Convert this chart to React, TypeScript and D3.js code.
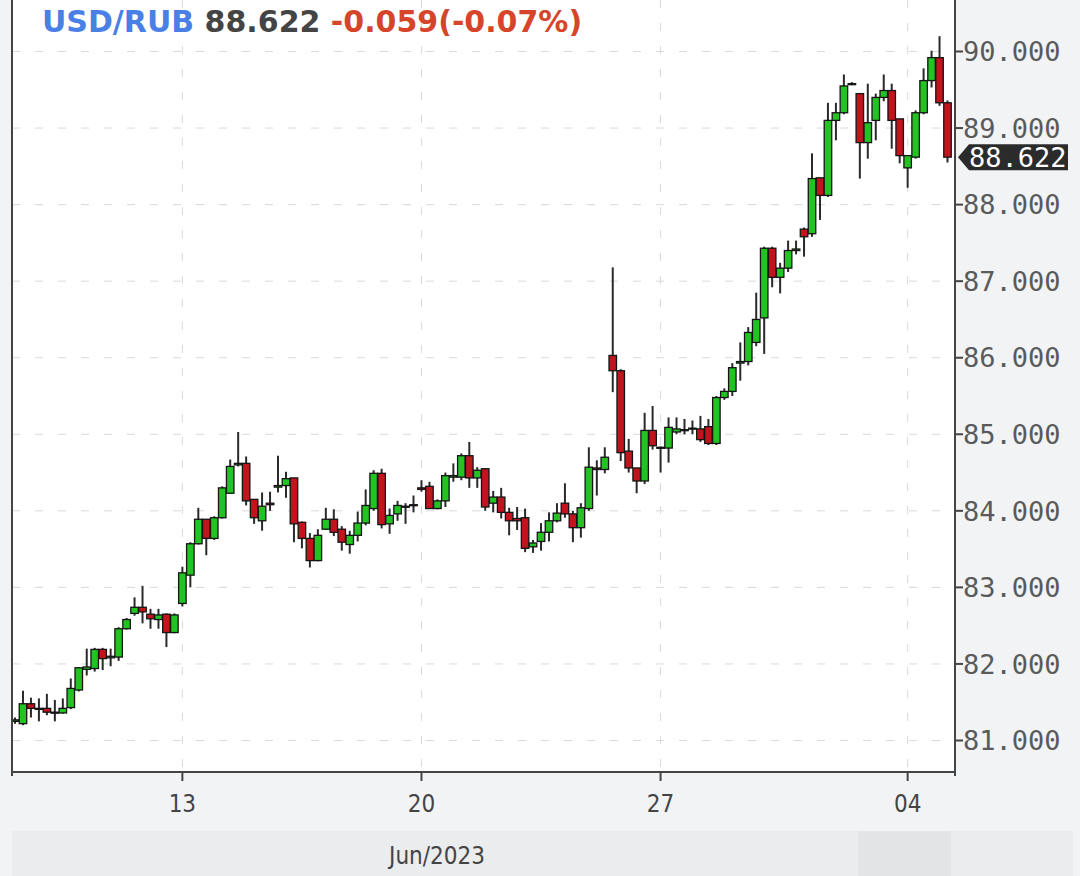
import React from "react";
import * as d3 from "d3";

const symbol = "USD/RUB";
const lastPrice = "88.622";
const change = "-0.059(-0.07%)";
const monthLabel = "Jun/2023";

const opens = [
  81.25, 81.22, 81.48, 81.42, 81.42, 81.37, 81.36, 81.43, 81.66, 81.93,
  81.94, 82.19, 82.08, 82.09, 82.46, 82.66, 82.74, 82.65, 82.58, 82.65,
  82.41, 82.79, 83.16, 83.57, 83.89, 83.64, 83.91, 84.23, 84.60, 84.62,
  84.15, 83.87, 84.10, 84.31, 84.33, 84.43, 83.85, 83.64, 83.35, 83.76,
  83.89, 83.76, 83.56, 83.68, 83.84, 84.03, 84.49, 83.83, 83.96, 84.06,
  84.07, 84.30, 84.32, 84.03, 84.13, 84.44, 84.44, 84.72, 84.43, 84.55,
  84.10, 84.18, 83.98, 83.90, 83.91, 83.53, 83.60, 83.72, 83.87, 84.10,
  83.96, 83.78, 84.03, 84.56, 84.54, 86.03, 85.83, 84.78, 84.56, 84.39,
  85.05, 84.83, 84.82, 85.03, 85.06, 85.08, 85.07, 85.10, 84.88, 85.48,
  85.56, 85.93, 85.95, 86.20, 86.52, 87.43, 87.05, 87.17, 87.40, 87.68,
  87.62, 88.35, 88.12, 89.10, 89.20, 89.58, 89.45, 88.81, 89.10, 89.40,
  89.49, 89.12, 88.48, 88.62, 89.20, 89.62, 89.92, 89.33,
];
const highs = [
  81.30, 81.65, 81.56, 81.55, 81.61, 81.53, 81.55, 81.81, 81.96, 82.20,
  82.21, 82.21, 82.20, 82.48, 82.60, 82.87, 83.02, 82.72, 82.72, 82.66,
  82.66, 83.27, 83.59, 84.04, 83.89, 83.93, 84.32, 84.67, 85.03, 84.71,
  84.15, 84.24, 84.25, 84.72, 84.51, 84.43, 83.86, 83.71, 83.76, 84.04,
  84.02, 83.80, 83.74, 83.99, 84.28, 84.53, 84.55, 84.03, 84.13, 84.10,
  84.20, 84.40, 84.38, 84.15, 84.50, 84.62, 84.75, 84.90, 84.57, 84.55,
  84.26, 84.30, 84.04, 84.05, 84.03, 83.62, 83.84, 83.98, 84.10, 84.36,
  84.00, 84.10, 84.83, 84.66, 84.83, 87.18, 85.85, 84.94, 84.56, 85.28,
  85.37, 84.84, 85.22, 85.22, 85.20, 85.18, 85.24, 85.20, 85.50, 85.60,
  85.93, 86.20, 86.40, 86.85, 87.45, 87.45, 87.24, 87.53, 87.53, 87.70,
  88.67, 88.35, 89.33, 89.33, 89.70, 89.60, 89.45, 89.58, 89.45, 89.70,
  89.58, 89.12, 88.64, 89.23, 89.78, 90.01, 90.20, 89.36,
];
const lows = [
  81.22, 81.20, 81.30, 81.25, 81.33, 81.25, 81.35, 81.41, 81.64, 81.85,
  81.90, 81.92, 81.97, 82.04, 82.45, 82.63, 82.53, 82.46, 82.46, 82.22,
  82.40, 82.75, 83.00, 83.56, 83.42, 83.62, 83.90, 84.22, 84.58, 84.07,
  83.83, 83.74, 84.00, 84.24, 84.17, 83.59, 83.51, 83.26, 83.34, 83.75,
  83.67, 83.48, 83.44, 83.60, 83.81, 84.00, 83.77, 83.70, 83.87, 83.83,
  83.98, 84.25, 84.03, 84.02, 84.05, 84.38, 84.40, 84.30, 84.30, 84.00,
  83.98, 83.90, 83.68, 83.75, 83.46, 83.45, 83.48, 83.60, 83.85, 83.91,
  83.59, 83.65, 84.00, 84.20, 84.49, 85.55, 84.65, 84.50, 84.23, 84.35,
  84.80, 84.50, 84.63, 85.00, 85.00, 85.00, 84.90, 84.86, 84.86, 85.45,
  85.50, 85.70, 85.90, 86.15, 86.05, 86.92, 86.84, 87.12, 87.35, 87.32,
  87.58, 87.80, 88.10, 88.84, 89.18, 89.56, 88.34, 88.60, 88.84, 89.35,
  88.73, 88.54, 88.22, 88.60, 89.18, 89.53, 89.29, 88.55,
];
const closes = [
  81.27, 81.48, 81.42, 81.41, 81.37, 81.36, 81.42, 81.68, 81.95, 81.96,
  82.19, 82.07, 82.10, 82.46, 82.58, 82.74, 82.68, 82.59, 82.64, 82.41,
  82.64, 83.19, 83.57, 83.89, 83.64, 83.91, 84.30, 84.58, 84.62, 84.13,
  83.91, 84.06, 84.08, 84.33, 84.42, 83.83, 83.64, 83.35, 83.68, 83.89,
  83.72, 83.59, 83.68, 83.84, 84.07, 84.49, 83.82, 83.94, 84.07, 84.05,
  84.08, 84.28, 84.03, 84.13, 84.46, 84.46, 84.72, 84.43, 84.53, 84.05,
  84.18, 83.98, 83.87, 83.87, 83.51, 83.58, 83.72, 83.87, 83.97, 83.96,
  83.78, 84.04, 84.57, 84.54, 84.70, 85.83, 84.76, 84.56, 84.39, 85.05,
  84.85, 84.82, 85.09, 85.07, 85.05, 85.08, 84.93, 84.88, 85.48, 85.56,
  85.87, 85.95, 86.33, 86.50, 87.43, 87.05, 87.17, 87.40, 87.42, 87.58,
  88.34, 88.12, 89.10, 89.20, 89.55, 89.58, 88.81, 89.07, 89.40, 89.49,
  89.10, 88.64, 88.64, 89.20, 89.62, 89.92, 89.33, 88.62,
];

const yTicks = [81, 82, 83, 84, 85, 86, 87, 88, 89, 90];
const xTickIndex = [21, 51, 81, 112];
const xTickLabels = ["13", "20", "27", "04"];

const W = 1080;
const H = 876;
const plotL = 12;
const plotR = 955;
const plotT = 0;
const plotB = 772;

export default function App() {
  const n = closes.length;
  const x = d3.scaleLinear().domain([0, n - 1]).range([15, 947.5]);
  const y = d3.scaleLinear().domain([81, 90]).range([740.5, 51.5]);
  const bw = 7.5;
  const fmt = d3.format(".3f");
  const lastY = y(closes[n - 1]);
  const gridColor = "#d9d9d9";

  const candles = d3.range(n).map((i) => {
    const o = opens[i];
    const c = closes[i];
    const up = c >= o;
    const cx = x(i);
    const top = y(Math.max(o, c));
    const bot = y(Math.min(o, c));
    const h = Math.max(bot - top, 1);
    return (
      <g key={i}>
        <line x1={cx} x2={cx} y1={y(highs[i])} y2={y(lows[i])} stroke="#2a2a2a" strokeWidth={2} />
        <rect
          x={cx - bw / 2}
          y={top}
          width={bw}
          height={h}
          fill={up ? "#22c322" : "#c2141c"}
          stroke="#151515"
          strokeWidth={1.3}
        />
      </g>
    );
  });

  return (
    <div style={{ position: "absolute", left: 0, top: 0 }}>
      <svg width={W} height={H} style={{ display: "block" }}>
        <rect x={0} y={0} width={W} height={H} fill="#f2f3f5" />
        <rect x={plotL} y={plotT} width={plotR - plotL} height={plotB - plotT} fill="#ffffff" />
        <defs>
          <clipPath id="plotclip">
            <rect x={plotL} y={plotT} width={plotR - plotL} height={plotB - plotT} />
          </clipPath>
        </defs>
        {yTicks.map((t) => (
          <line key={"hg" + t} x1={plotL} x2={plotR} y1={y(t)} y2={y(t)} stroke={gridColor} strokeWidth={1} strokeDasharray="8,15" />
        ))}
        {xTickIndex.map((t) => (
          <line key={"vg" + t} x1={x(t)} x2={x(t)} y1={plotT} y2={plotB} stroke={gridColor} strokeWidth={1} strokeDasharray="8,15" />
        ))}
        <g clipPath="url(#plotclip)">{candles}</g>
        {/* axes */}
        <line x1={plotL} x2={plotL} y1={0} y2={plotB} stroke="#444" strokeWidth={2} />
        <line x1={plotL} x2={plotR} y1={plotB} y2={plotB} stroke="#444" strokeWidth={2} />
        <line x1={plotR} x2={plotR} y1={0} y2={plotB + 4} stroke="#444" strokeWidth={2} />
        <line x1={plotL} x2={plotL} y1={plotB} y2={plotB + 4} stroke="#444" strokeWidth={2} />
        {xTickIndex.map((t, k) => (
          <g key={"xt" + t}>
            <line x1={x(t)} x2={x(t)} y1={plotB} y2={plotB + 9} stroke="#444" strokeWidth={2} />
            <text
              x={x(t)}
              y={812}
              textAnchor="middle"
              fontFamily="'DejaVu Sans Condensed', 'DejaVu Sans', sans-serif"
              fontStretch="condensed"
              fontSize={24}
              fill="#444"
            >
              {xTickLabels[k]}
            </text>
          </g>
        ))}
        {yTicks.map((t) => (
          <g key={"yt" + t}>
            <line x1={plotR} x2={plotR + 8} y1={y(t)} y2={y(t)} stroke="#444" strokeWidth={2} />
            <text
              x={963}
              y={y(t)}
              dy="0.36em"
              fontFamily="'DejaVu Sans Mono', monospace"
              fontSize={27}
              fill="#5a5a5a"
            >
              {fmt(t)}
            </text>
          </g>
        ))}
        {/* last price tag */}
        <path
          d={`M${plotR + 3},${lastY} L${plotR + 14},${lastY - 13} L1068,${lastY - 13} L1068,${lastY + 13} L${plotR + 14},${lastY + 13} Z`}
          fill="#2b2b2b"
        />
        <text
          x={969}
          y={lastY}
          dy="0.36em"
          fontFamily="'DejaVu Sans Mono', monospace"
          fontSize={27}
          fill="#ffffff"
        >
          {lastPrice}
        </text>
        {/* header */}
        <text x={42} y={32} fontFamily="'DejaVu Sans', sans-serif" fontWeight="bold" fontSize={30}>
          <tspan fill="#4a7fe6">{symbol}</tspan>
          <tspan fill="#444444"> {lastPrice}</tspan>
          <tspan fill="#d6452a"> {change}</tspan>
        </text>
        {/* month band */}
        <rect x={12} y={831} width={1061} height={45} fill="#ebecee" />
        <rect x={858} y={831} width={93} height={45} fill="#e3e4e6" />
        <text
          x={437}
          y={864}
          textAnchor="middle"
          fontFamily="'DejaVu Sans Condensed', 'DejaVu Sans', sans-serif"
          fontStretch="condensed"
          fontSize={24}
          fill="#444"
        >
          {monthLabel}
        </text>
      </svg>
    </div>
  );
}
